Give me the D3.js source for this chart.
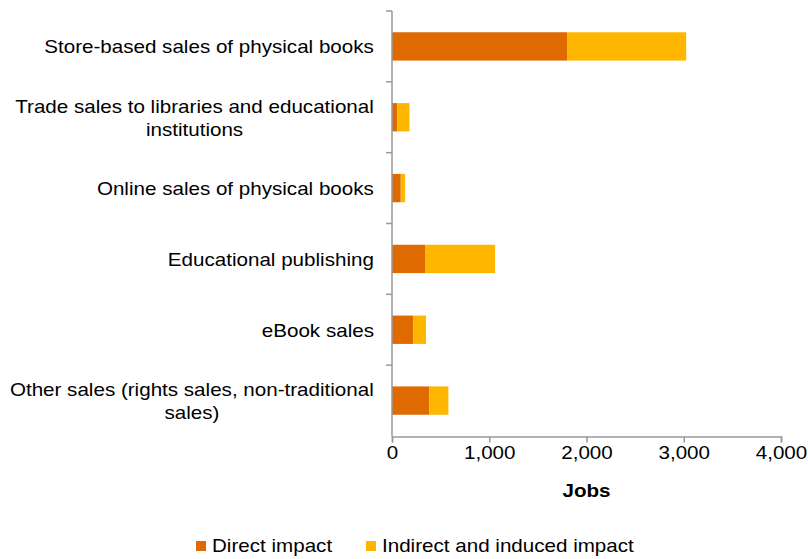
<!DOCTYPE html>
<html><head><meta charset="utf-8">
<script src="https://cdn.jsdelivr.net/npm/d3@7"></script>
<style>body{margin:0;background:#fff}svg{display:block}text{font-family:"Liberation Sans",Arial,sans-serif;fill:#000}</style>
</head><body><svg id="c" width="808" height="559"></svg>
<script>
const categories = [
  ["Store-based sales of physical books"],
  ["Trade sales to libraries and educational", "institutions"],
  ["Online sales of physical books"],
  ["Educational publishing"],
  ["eBook sales"],
  ["Other sales (rights sales, non-traditional", "sales)"]
];
const seriesNames = ["Direct impact", "Indirect and induced impact"];
const directImpact = [1800, 55, 90, 340, 220, 385];
const indirectImpact = [1225, 125, 45, 720, 130, 195];
const xTicks = [0, 1000, 2000, 3000, 4000];
const colors = ["#DE6A00", "#FFB600"];

const FS = 18, SX = 1.145;
const svg = d3.select("#c");
const m = {l: 392, t: 11, r: 27, b: 123};
const W = 808, H = 559;
const x = d3.scaleLinear().domain([0, 4000]).range([m.l, W - m.r]);
const keys = categories.map((c, i) => i);
const y = d3.scaleBand().domain(keys).range([m.t, H - m.b]).paddingInner(0.6).paddingOuter(0.3);
const yb = d3.scaleBand().domain(keys).range([m.t, H - m.b]);

const data = keys.map(i => ({i, d: directImpact[i], n: indirectImpact[i]}));
const stack = d3.stack().keys(["d", "n"])(data);

svg.append("g").selectAll("g").data(stack).join("g").attr("fill", (s, k) => colors[k])
  .selectAll("rect").data(s => s).join("rect")
  .attr("x", d => x(d[0])).attr("width", d => x(d[1]) - x(d[0]))
  .attr("y", d => y(d.data.i)).attr("height", y.bandwidth());

// x axis
const xa = svg.append("g").attr("transform", `translate(0,${H - m.b + 0.5})`)
  .call(d3.axisBottom(x).tickValues(xTicks).tickSize(6).tickPadding(4).tickFormat(d3.format(",")));
xa.select(".domain").attr("stroke", "#999").attr("stroke-width", 1.5);
xa.selectAll(".tick line").attr("stroke", "#999").attr("stroke-width", 1.5);
xa.selectAll("text").attr("font-size", FS).attr("transform", `scale(${SX},1)`)
  .style("font-family", '"Liberation Sans",Arial,sans-serif').attr("fill", "#000");

// y axis
const ya = svg.append("g").attr("transform", `translate(${m.l},0)`);
ya.append("line").attr("x1", 0).attr("x2", 0).attr("y1", m.t).attr("y2", H - m.b + 0.5).attr("stroke", "#999").attr("stroke-width", 1.5);
const bounds = keys.map(i => yb(i));
ya.selectAll(".tk").data(bounds).join("line").attr("class", "tk")
  .attr("x1", -6).attr("x2", 0).attr("y1", d => d).attr("y2", d => d).attr("stroke", "#999").attr("stroke-width", 1.5);

// labels
const lg = svg.append("g");
keys.forEach(i => {
  const lines = categories[i];
  const cy = yb(i) + yb.bandwidth() / 2;
  const g = lg.append("g");
  const lh = 23;
  const t = g.append("text").attr("font-size", FS).attr("text-anchor", "middle");
  lines.forEach((l, j) => {
    t.append("tspan").attr("x", 0).attr("y", cy + (j - (lines.length - 1) / 2) * lh).attr("dy", "0.38em").text(l);
  });
  const w = t.node().getBBox().width * SX;
  g.attr("transform", `translate(${374 - w / 2},0) scale(${SX},1)`);
});

// axis title
svg.append("g").attr("transform", `translate(${(x(0) + x(4000)) / 2},497) scale(${SX},1)`)
  .append("text").attr("text-anchor", "middle")
  .attr("font-size", FS).attr("font-weight", "bold").text("Jobs");

// legend
const legX = [196, 366];
seriesNames.forEach((s, k) => {
  svg.append("rect").attr("x", legX[k]).attr("y", 541).attr("width", 10).attr("height", 10).attr("fill", colors[k]);
  svg.append("g").attr("transform", `translate(${legX[k] + 16},546) scale(${SX},1)`)
    .append("text").attr("dy", "0.35em").attr("font-size", FS).text(s);
});
</script></body></html>
